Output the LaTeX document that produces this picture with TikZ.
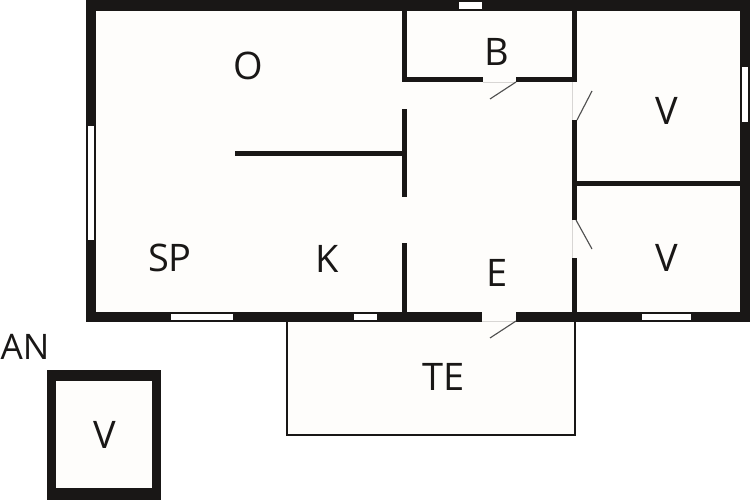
\documentclass[tikz,border=0pt]{standalone}
\usepackage{fontspec}
\setmainfont{Open Sans}
\definecolor{wallc}{HTML}{191716}
\definecolor{floorc}{HTML}{FEFDFB}
\definecolor{jambc}{HTML}{D8D6D4}
\definecolor{swingc}{HTML}{505050}

\begin{document}
\begin{tikzpicture}[x=0.025cm,y=-0.025cm,
    wall/.style={wallc,line width=3.6pt},
    thinwall/.style={wallc,line width=1.4pt},
    swing/.style={swingc,line width=0.8pt},
    jamb/.style={jambc,line width=0.5pt},
    pane/.style={fill=white},
    room/.style={text=wallc,font=\fontsize{27}{27}\selectfont,inner sep=0pt}]
    \useasboundingbox (0,0) rectangle (750,500);
    \fill[white] (0,0) rectangle (750,500);

      % terrace
      \fill[floorc] (287,321) rectangle (575,435);
      \draw[thinwall] (287,320)--(287,435)--(575,435)--(575,320);

      % house
      \fill[wallc] (86,0) rectangle (750,321.5);
      \fill[floorc] (95.5,10.5) rectangle (740,311.5);

      \draw[wall] (404.5,10)--(404.5,82);
      \draw[wall] (402,79.5)--(483,79.5);
      \draw[wall] (516,79.5)--(577,79.5);
      \draw[wall] (574.5,10)--(574.5,82);
      \draw[wall] (574.5,120)--(574.5,220);
      \draw[wall] (574.5,258)--(574.5,312);
      \draw[wall] (574,183.5)--(741,183.5);

      \draw[wall] (404.5,109)--(404.5,197);
      \draw[wall] (404.5,243)--(404.5,312);
      \draw[wall] (235,153.5)--(404,153.5);

      % windows
      \fill[pane] (458.5,2) rectangle (481.5,8.5);
      \fill[pane] (88,126) rectangle (94,240);
      \fill[pane] (742,67) rectangle (748,122);
      \fill[pane] (171,313.5) rectangle (232.5,320);
      \fill[pane] (354,313.5) rectangle (377,320);
      \fill[pane] (642,313.5) rectangle (691,320);

      % doors
      \fill[floorc] (482,311) rectangle (516,322);
      \draw[jamb] (483,82)--(516,82);
      \draw[jamb] (572,82)--(572,120);
      \draw[jamb] (572,220)--(572,258);
      \draw[jamb] (482,321.5)--(516,321.5);
      \draw[swing] (516,82)--(490,99);
      \draw[swing] (577,120)--(592,91);
      \draw[swing] (576,220)--(592,249);
      \draw[swing] (516,321)--(490,338);

      % annex
      \fill[wallc] (46.5,370) rectangle (161,500);
      \fill[floorc] (56,380.5) rectangle (151.5,488);

      \node[room] (o) at (248,66) {O};
      \node[room] (b) at (497,52) {B};
      \node[room] (v1) at (667,111) {V};
      \node[room] (v2) at (667,258) {V};
      \node[room] (e) at (497,273) {E};
      \node[room] (sp) at (170,258) {SP};
      \node[room] (k) at (327,259) {K};
      \node[room] (te) at (444,377) {TE};
      \node[room,font=\fontsize{25}{25}\selectfont] (an) at (25,347) {AN};
      \node[room] (v3) at (105,435) {V};
  \end{tikzpicture}
\end{document}
